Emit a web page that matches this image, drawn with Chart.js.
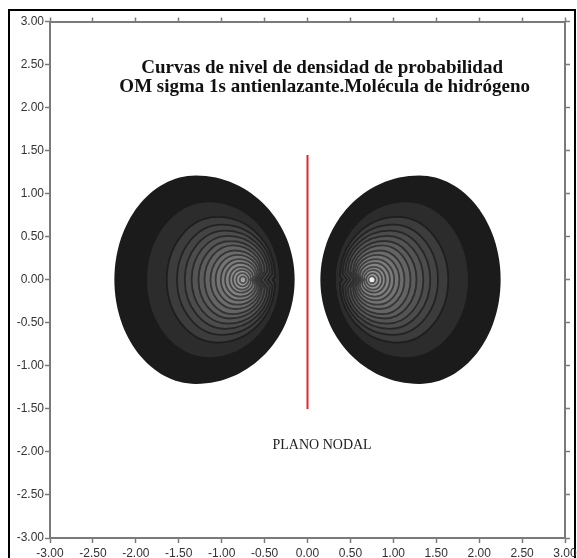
<!DOCTYPE html>
<html>
<head>
<meta charset="utf-8">
<script src="https://cdn.jsdelivr.net/npm/chart.js@4.4.1/dist/chart.umd.min.js"></script>
<style>
  body { margin: 0; background: #fff; }
  #frame { position: absolute; left: 8px; top: 9px; width: 564px; height: 560px; border: 2px solid #000; }
  #myChart { position: absolute; left: 0; top: 0; }
</style>
</head>
<body>
<div id="frame"></div>
<canvas id="myChart" width="577" height="558"></canvas>
<script>
// contour rings of the left lobe (right lobe is its mirror image), outermost first
const nucleiX = [-0.75, 0.75];
const ringLeft = [-2.25, -1.87, -1.64, -1.52, -1.43, -1.35, -1.27, -1.20, -1.13, -1.07, -1.01, -0.96, -0.91, -0.87, -0.83, -0.79];
const ringRight = [-0.15, -0.33, -0.38, -0.41, -0.44, -0.47, -0.50, -0.53, -0.55, -0.57, -0.59, -0.61, -0.635, -0.66, -0.685, -0.715];
const ringTop = [1.21, 0.90, 0.73, 0.64, 0.57, 0.51, 0.45, 0.40, 0.34, 0.29, 0.24, 0.195, 0.15, 0.115, 0.077, 0.04];
const ringTopX = [-1.30, -1.15, -1.05, -1.00, -0.96, -0.93, -0.90, -0.87, -0.845, -0.82, -0.80, -0.785, -0.775, -0.765, -0.758, -0.752];
const ringNotch = [0, 0, 0.03, 0.05, 0.06, 0.07, 0.07, 0.07, 0.065, 0.055, 0.045, 0.035, 0.02, 0.01, 0, 0];

// nodal plane
const nodalX = [0, 0];
const nodalY = [1.45, -1.5];

const titleLines = ["Curvas de nivel de densidad de probabilidad", "OM sigma 1s antienlazante.Molécula de hidrógeno"];
const nodalLabel = "PLANO NODAL";

const axisMin = -3, axisMax = 3, axisStep = 0.5;

function ringPath(ctx, sx, sy, m, i) {
  const px = v => sx.getPixelForValue(m * v);
  const py = v => sy.getPixelForValue(v);
  const L = ringLeft[i], R = ringRight[i], H = ringTop[i], T = ringTopX[i], N = ringNotch[i];
  const k = 0.5523;
  const yk = N * 1.3;
  ctx.beginPath();
  ctx.moveTo(px(T), py(H));
  ctx.bezierCurveTo(px(T - k * (T - L)), py(H), px(L), py(k * H), px(L), py(0));
  ctx.bezierCurveTo(px(L), py(-k * H), px(T - k * (T - L)), py(-H), px(T), py(-H));
  ctx.bezierCurveTo(px(T + k * (R - T)), py(-H), px(R), py(-yk - k * (H - yk)), px(R), py(-yk));
  if (N > 0) {
    ctx.lineTo(px(R - N), py(0));
    ctx.lineTo(px(R), py(yk));
  }
  ctx.bezierCurveTo(px(R), py(yk + k * (H - yk)), px(T + k * (R - T)), py(H), px(T), py(H));
  ctx.closePath();
}

const contourPlugin = {
  id: "contours",
  beforeDatasetsDraw(chart) {
    const ctx = chart.ctx;
    const sx = chart.scales.x, sy = chart.scales.y;
    ctx.save();
    [-1, 1].forEach(m => {
      for (let i = 0; i < ringLeft.length; i++) {
        let g;
        if (i === 0) g = 27;
        else if (i === 1) g = 44;
        else g = 60 + (i - 2) * 8;
        ringPath(ctx, sx, sy, m, i);
        ctx.fillStyle = `rgb(${g},${g},${g})`;
        ctx.fill();
        if (i >= 2) {
          const s = Math.round(g * 0.5);
          ctx.strokeStyle = `rgb(${s},${s},${s})`;
          ctx.lineWidth = 1.8;
          ctx.stroke();
        }
      }
      // bright spot at the nucleus
      const nx = sx.getPixelForValue(m < 0 ? nucleiX[0] : nucleiX[1]);
      const ny = sy.getPixelForValue(0);
      ctx.beginPath();
      ctx.arc(nx, ny, 2.5, 0, Math.PI * 2);
      ctx.fillStyle = "#eeeeee";
      ctx.fill();
    });
    ctx.restore();
  },
  afterDraw(chart) {
    const ctx = chart.ctx;
    const sx = chart.scales.x, sy = chart.scales.y;
    ctx.save();
    ctx.fillStyle = "#111";
    ctx.textAlign = "center";
    ctx.textBaseline = "middle";
    ctx.font = "bold 19px 'Liberation Serif', 'Times New Roman', serif";
    ctx.fillText(titleLines[0], sx.getPixelForValue(0.17), sy.getPixelForValue(2.46));
    ctx.fillText(titleLines[1], sx.getPixelForValue(0.20), sy.getPixelForValue(2.24));
    ctx.font = "14px 'Liberation Serif', 'Times New Roman', serif";
    ctx.fillStyle = "#222";
    ctx.fillText(nodalLabel, sx.getPixelForValue(0.17), sy.getPixelForValue(-1.92));
    ctx.restore();
  }
};

const tickFont = { family: "'Liberation Sans', Arial, sans-serif", size: 12 };
const axisGray = "#7a7a7a";

const ctx = document.getElementById("myChart").getContext("2d");
new Chart(ctx, {
  type: "scatter",
  data: {
    datasets: [{
      label: "plano nodal",
      data: nodalX.map((x, i) => ({ x, y: nodalY[i] })),
      showLine: true,
      borderColor: "#e0262b",
      borderWidth: 2,
      pointRadius: 0,
    }],
  },
  options: {
    responsive: false,
    animation: false,
    plugins: { legend: { display: false }, tooltip: { enabled: false } },
    layout: { padding: 0 },
    scales: {
      x: {
        type: "linear", position: "bottom", min: axisMin, max: axisMax,
        afterFit: s => { s.height = 20; s.paddingLeft = 0; s.paddingRight = 0; },
        grid: { drawOnChartArea: false, tickLength: 5, tickColor: axisGray, tickWidth: 1.5 },
        border: { color: axisGray, width: 2 },
        ticks: { stepSize: axisStep, autoSkip: false, maxRotation: 0, padding: 3, color: "#333", font: tickFont, callback: v => v.toFixed(2) },
      },
      x2: {
        type: "linear", position: "top", min: axisMin, max: axisMax,
        afterFit: s => { s.height = 21.5; s.paddingLeft = 0; s.paddingRight = 0; },
        grid: { drawOnChartArea: false, tickLength: 4, tickColor: axisGray, tickWidth: 1.5 },
        border: { color: axisGray, width: 2 },
        ticks: { stepSize: axisStep, display: true, color: "rgba(0,0,0,0)", font: { size: 1 } },
      },
      y: {
        type: "linear", position: "left", min: axisMin, max: axisMax,
        afterFit: s => { s.width = 50; s.paddingTop = 0; s.paddingBottom = 0; },
        grid: { drawOnChartArea: false, tickLength: 5, tickColor: axisGray, tickWidth: 1.5 },
        border: { color: axisGray, width: 2 },
        ticks: { stepSize: axisStep, autoSkip: false, padding: 1, color: "#333", font: tickFont, callback: v => v.toFixed(2) },
      },
      y2: {
        type: "linear", position: "right", min: axisMin, max: axisMax,
        afterFit: s => { s.width = 12; s.paddingTop = 0; s.paddingBottom = 0; },
        grid: { drawOnChartArea: false, tickLength: 5, tickColor: axisGray, tickWidth: 1.5 },
        border: { color: axisGray, width: 2 },
        ticks: { stepSize: axisStep, display: true, color: "rgba(0,0,0,0)", font: { size: 1 } },
      },
    },
  },
  plugins: [contourPlugin],
});
</script>
</body>
</html>
